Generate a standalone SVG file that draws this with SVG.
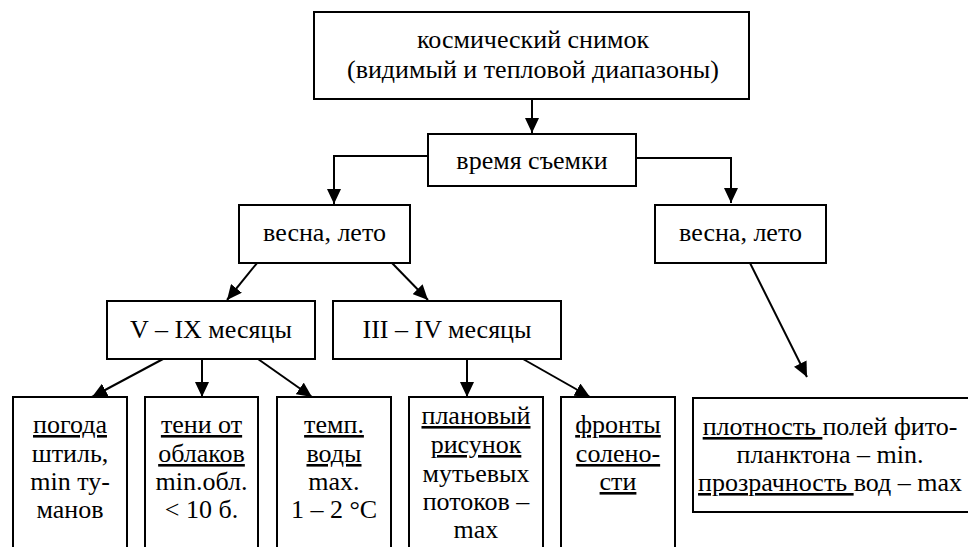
<svg xmlns="http://www.w3.org/2000/svg" width="968" height="547" viewBox="0 0 968 547">
<style>
.box{fill:#fff;stroke:#000;stroke-width:2}
.t{font-family:'Liberation Serif','Times New Roman',Times,serif;font-size:26px;fill:#000;text-anchor:middle}
.u{text-decoration:underline}
.c{fill:none;stroke:#000;stroke-width:2}
</style>
<defs>
<marker id="ah" markerUnits="userSpaceOnUse" markerWidth="16" markerHeight="14" refX="15" refY="7" orient="auto">
<path d="M0,0 L15,7 L0,14 z" fill="#000"/>
</marker>
</defs>
<rect width="968" height="547" fill="#fff"/>
<g id="connectors">
<path class="c" d="M532,99 V133" marker-end="url(#ah)"/>
<path class="c" d="M428,156 H334 V204" marker-end="url(#ah)"/>
<path class="c" d="M636,158 H731 V203" marker-end="url(#ah)"/>
<path class="c" d="M257,263 L227,300" marker-end="url(#ah)"/>
<path class="c" d="M392,263 L428,300" marker-end="url(#ah)"/>
<path class="c" d="M750,263 L807,377" marker-end="url(#ah)"/>
<path class="c" d="M163,359 L92,397" marker-end="url(#ah)"/>
<path class="c" d="M202,359 L202,397" marker-end="url(#ah)"/>
<path class="c" d="M258,359 L312,397" marker-end="url(#ah)"/>
<path class="c" d="M467,359 L467,397" marker-end="url(#ah)"/>
<path class="c" d="M523,359 L590,397" marker-end="url(#ah)"/>
</g>
<g id="n-snimok">
<rect class="box" x="314" y="12" width="435" height="87"/>
<text class="t" x="533" y="48">космический снимок</text>
<text class="t" x="533" y="78">(видимый и тепловой диапазоны)</text>
</g>
<g id="n-vremya">
<rect class="box" x="428" y="134" width="208" height="52"/>
<text class="t" x="532" y="169">время съемки</text>
</g>
<g id="n-vesna1">
<rect class="box" x="239" y="205" width="171" height="58"/>
<text class="t" x="324.5" y="241">весна, лето</text>
</g>
<g id="n-vesna2">
<rect class="box" x="655" y="205" width="171" height="58"/>
<text class="t" x="740.5" y="241">весна, лето</text>
</g>
<g id="n-v-ix">
<rect class="box" x="107" y="301" width="208" height="58"/>
<text class="t" x="211" y="338">V – IX месяцы</text>
</g>
<g id="n-iii-iv">
<rect class="box" x="333" y="301" width="228" height="58"/>
<text class="t" x="447" y="338">III – IV месяцы</text>
</g>
<g id="n-pogoda">
<rect class="box" x="13" y="397" width="114" height="170"/>
<text class="t" x="70" y="433"><tspan class="u">погода</tspan></text>
<text class="t" x="70" y="462">штиль,</text>
<text class="t" x="70" y="490">min ту-</text>
<text class="t" x="70" y="518">манов</text>
</g>
<g id="n-teni">
<rect class="box" x="145" y="397" width="113" height="170"/>
<text class="t" x="201.5" y="433"><tspan class="u">тени от</tspan></text>
<text class="t" x="201.5" y="462"><tspan class="u">облаков</tspan></text>
<text class="t" x="201.5" y="490">min.обл.</text>
<text class="t" x="201.5" y="518">&lt; 10 б.</text>
</g>
<g id="n-temp">
<rect class="box" x="277" y="397" width="114" height="170"/>
<text class="t" x="334" y="433"><tspan class="u">темп.</tspan></text>
<text class="t" x="334" y="462"><tspan class="u">воды</tspan></text>
<text class="t" x="334" y="490">max.</text>
<text class="t" x="334" y="518">1 – 2 °C</text>
</g>
<g id="n-plan">
<rect class="box" x="409" y="397" width="134" height="170"/>
<text class="t" x="476" y="424"><tspan class="u">плановый</tspan></text>
<text class="t" x="476" y="453"><tspan class="u">рисунок</tspan></text>
<text class="t" x="476" y="482">мутьевых</text>
<text class="t" x="476" y="510">потоков –</text>
<text class="t" x="476" y="538">max</text>
</g>
<g id="n-fronty">
<rect class="box" x="561" y="397" width="114" height="170"/>
<text class="t" x="618" y="433"><tspan class="u">фронты</tspan></text>
<text class="t" x="618" y="462"><tspan class="u">солено-</tspan></text>
<text class="t" x="618" y="490"><tspan class="u">сти</tspan></text>
</g>
<g id="n-plotnost">
<rect class="box" x="693" y="398" width="290" height="114"/>
<text class="t" x="830" y="435"><tspan class="u">плотность </tspan>полей фито-</text>
<text class="t" x="830" y="463">планктона – min.</text>
<text class="t" x="830" y="491"><tspan class="u">прозрачность </tspan>вод – max</text>
</g>
</svg>
